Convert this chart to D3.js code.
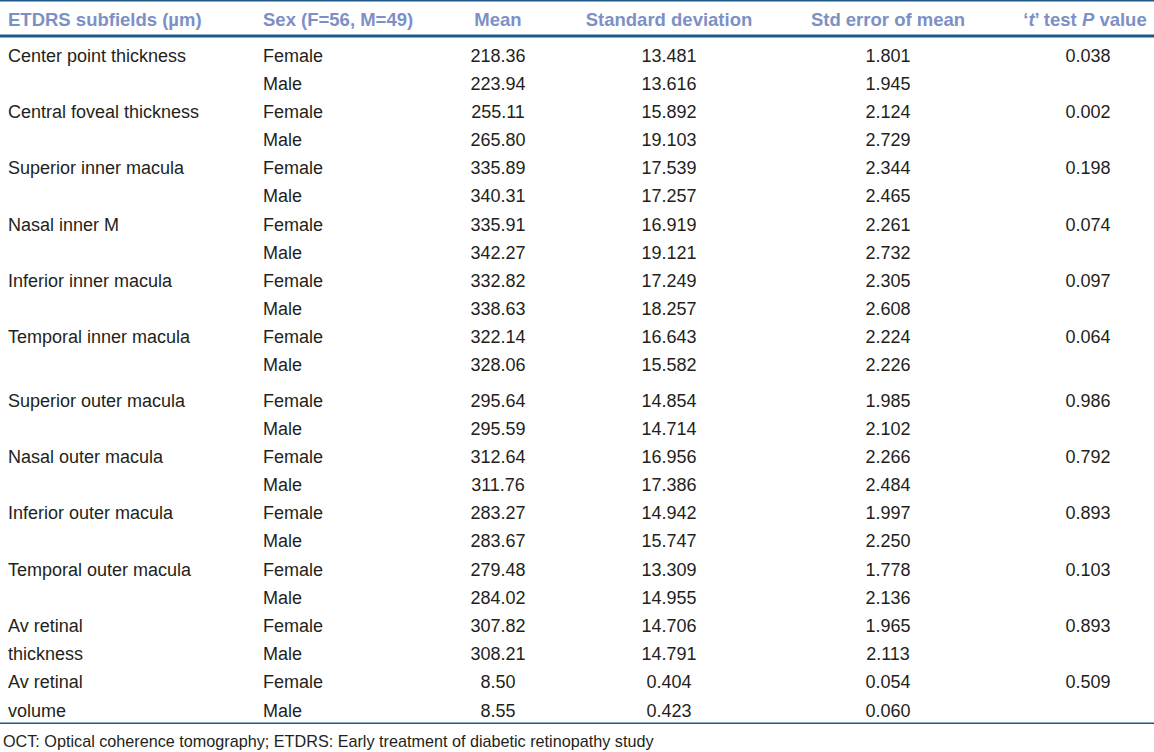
<!DOCTYPE html>
<html><head><meta charset="utf-8">
<script src="https://cdn.jsdelivr.net/npm/d3@7"></script>
<style>body{margin:0;background:#fff;} svg{display:block;}</style>
</head><body>
<svg id="c" width="1154" height="752"></svg>
<script>
const headers = ["ETDRS subfields (µm)", "Sex (F=56, M=49)", "Mean", "Standard deviation", "Std error of mean", "‘t’ test P value"];
const subfields = [["Center point thickness"],["Central foveal thickness"],["Superior inner macula"],["Nasal inner M"],["Inferior inner macula"],["Temporal inner macula"],["Superior outer macula"],["Nasal outer macula"],["Inferior outer macula"],["Temporal outer macula"],["Av retinal","thickness"],["Av retinal","volume"]];
const sexes = ["Female","Male"];
const means = [["218.36","223.94"],["255.11","265.80"],["335.89","340.31"],["335.91","342.27"],["332.82","338.63"],["322.14","328.06"],["295.64","295.59"],["312.64","311.76"],["283.27","283.67"],["279.48","284.02"],["307.82","308.21"],["8.50","8.55"]];
const sds = [["13.481","13.616"],["15.892","19.103"],["17.539","17.257"],["16.919","19.121"],["17.249","18.257"],["16.643","15.582"],["14.854","14.714"],["16.956","17.386"],["14.942","15.747"],["13.309","14.955"],["14.706","14.791"],["0.404","0.423"]];
const sems = [["1.801","1.945"],["2.124","2.729"],["2.344","2.465"],["2.261","2.732"],["2.305","2.608"],["2.224","2.226"],["1.985","2.102"],["2.266","2.484"],["1.997","2.250"],["1.778","2.136"],["1.965","2.113"],["0.054","0.060"]];
const pvalues = ["0.038","0.002","0.198","0.074","0.097","0.064","0.986","0.792","0.893","0.103","0.893","0.509"];
const footnote = "OCT: Optical coherence tomography; ETDRS: Early treatment of diabetic retinopathy study";

const svg = d3.select("#c");
const font = "'Liberation Sans', Arial, sans-serif";
const textColor = "#231f20";
const headColor = "#7d90c6";
const lineColor = "#1d5a8a";

// row positions
const nRows = subfields.length * 2;
const yRow = d3.scaleLinear().domain([0, nRows - 1]).range([55, 703]);
const rowY = i => yRow(i) + (i >= 12 ? 7 : 0);

// columns: [x, anchor]
const cols = [[8,"start"],[263,"start"],[498,"middle"],[669,"middle"],[888,"middle"],[1088,"middle"]];
const headX = [8, 263, 498, 669, 888, 1085];

// lines
svg.append("rect").attr("x",0).attr("y",0).attr("width",1154).attr("height",1.5).attr("fill",lineColor);
svg.append("rect").attr("x",0).attr("y",34.5).attr("width",1154).attr("height",3).attr("fill",lineColor);
svg.append("rect").attr("x",0).attr("y",722.5).attr("width",1154).attr("height",1.5).attr("fill",lineColor);

// headers
const hg = svg.append("g").attr("font-family", font).attr("font-size", 18.5).attr("font-weight","bold").attr("fill", headColor);
headers.forEach((h, i) => {
  const t = hg.append("text").attr("x", headX[i]).attr("y", 26).attr("text-anchor", cols[i][1]);
  if (i === 5) {
    t.append("tspan").text("‘");
    t.append("tspan").attr("font-style","italic").text("t");
    t.append("tspan").text("’ test ");
    t.append("tspan").attr("font-style","italic").text("P");
    t.append("tspan").text(" value");
  } else t.text(h);
});

// body
const bg = svg.append("g").attr("font-family", font).attr("font-size", 18).attr("fill", textColor);
subfields.forEach((lines, g) => {
  lines.forEach((ln, k) => {
    bg.append("text").attr("x", cols[0][0]).attr("y", rowY(g*2 + k) + 6.5).text(ln);
  });
  sexes.forEach((s, k) => {
    const y = rowY(g*2 + k) + 6.5;
    bg.append("text").attr("x", cols[1][0]).attr("y", y).text(s);
    bg.append("text").attr("x", cols[2][0]).attr("y", y).attr("text-anchor","middle").text(means[g][k]);
    bg.append("text").attr("x", cols[3][0]).attr("y", y).attr("text-anchor","middle").text(sds[g][k]);
    bg.append("text").attr("x", cols[4][0]).attr("y", y).attr("text-anchor","middle").text(sems[g][k]);
  });
  bg.append("text").attr("x", cols[5][0]).attr("y", rowY(g*2) + 6.5).attr("text-anchor","middle").text(pvalues[g]);
});

svg.append("text").attr("x", 3).attr("y", 746.5).attr("font-family", font).attr("font-size", 16.2).attr("fill", textColor).text(footnote);
</script>
</body></html>
